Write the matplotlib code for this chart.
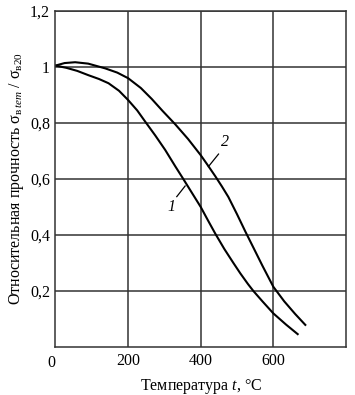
import matplotlib.pyplot as plt

plt.rcParams['font.family'] = ['Liberation Serif', 'DejaVu Serif']
plt.rcParams['mathtext.fontset'] = 'custom'
plt.rcParams['mathtext.rm'] = 'Liberation Serif'
plt.rcParams['mathtext.it'] = 'Liberation Serif:italic'

# curve 1 (lower)
t1 = [0, 30, 60, 90, 120, 146, 175, 200, 225, 247, 275, 302, 330, 352, 376,
      400, 420, 440, 465, 490, 509, 530, 545, 570, 600, 635, 667]
s1 = [1.005, 0.997, 0.986, 0.971, 0.957, 0.942, 0.915, 0.882, 0.845, 0.805, 0.755,
      0.704, 0.645, 0.60, 0.55, 0.50, 0.452, 0.405, 0.35, 0.30, 0.263, 0.225, 0.20,
      0.163, 0.12, 0.08, 0.046]

# curve 2 (upper)
t2 = [0, 25, 54, 90, 137, 170, 200, 235, 265, 295, 330, 365, 400, 420, 440, 458,
      476, 500, 523, 545, 570, 600, 630, 660, 688]
s2 = [1.005, 1.014, 1.017, 1.012, 0.995, 0.98, 0.96, 0.925, 0.886, 0.843, 0.795,
      0.743, 0.685, 0.648, 0.61, 0.574, 0.536, 0.474, 0.412, 0.355, 0.29, 0.215,
      0.163, 0.118, 0.079]

xticks = [200, 400, 600]
yticks = [0.2, 0.4, 0.6, 0.8, 1.0, 1.2]
ylabels = ['0,2', '0,4', '0,6', '0,8', '1', '1,2']

fig = plt.figure(figsize=(3.55, 3.95), dpi=100)
ax = fig.add_axes([0.1563, 0.1215, 0.8183, 0.8507])

ax.plot(t1, s1, color='black', lw=1.5, solid_joinstyle='round')
ax.plot(t2, s2, color='black', lw=1.5, solid_joinstyle='round')

ax.set_xlim(0, 800)
ax.set_ylim(0, 1.2)
ax.set_xticks(xticks)
ax.set_yticks(yticks)
ax.set_yticklabels(ylabels)
ax.tick_params(length=0, labelsize=11.5, pad=4)
ax.grid(True, color='#333333', lw=1.1)
for sp in ax.spines.values():
    sp.set_color('#333333')
    sp.set_linewidth(1.1)

ax.text(-12, -0.03, '0', ha='center', va='top', fontsize=11.5)

# curve labels with leader lines
ax.plot([334, 357], [0.537, 0.575], color='black', lw=0.9)
ax.text(320, 0.50, '1', fontsize=11.5, style='italic', ha='center', va='center')
ax.plot([421, 449], [0.644, 0.689], color='black', lw=0.9)
ax.text(468, 0.733, '2', fontsize=11.5, style='italic', ha='center', va='center')

ax.set_xlabel('Температура $t$, °C', fontsize=11.5, labelpad=6)
ax.set_ylabel('Относительная прочность σ$_{\\mathrm{в}\\,tem}$ / σ$_{\\mathrm{в}20}$',
              fontsize=11.5, labelpad=3)

fig.savefig('out.png', dpi=100)
